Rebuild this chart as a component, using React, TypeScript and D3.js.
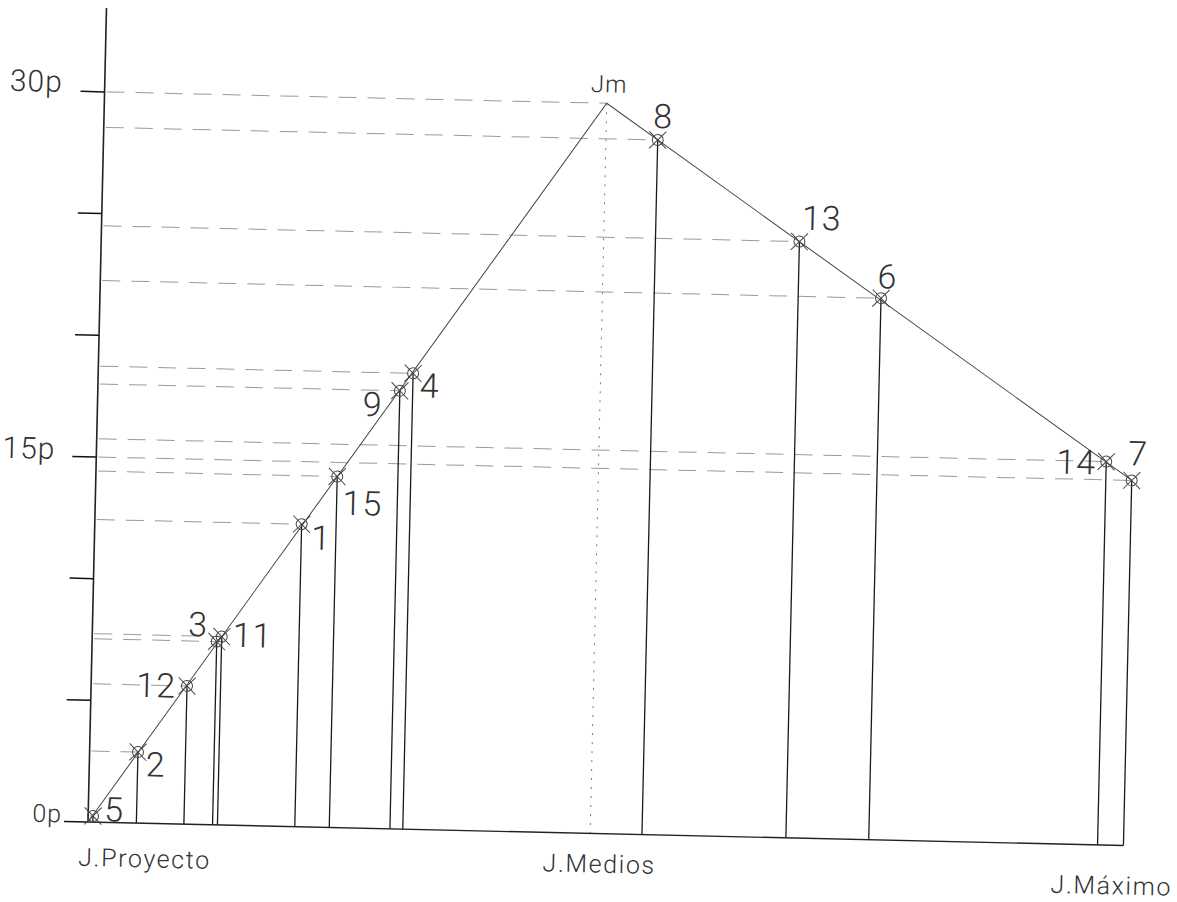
import React from 'react';
import * as d3 from 'd3';

// ---- data ----
const pointIds = ['5', '2', '12', '3', '11', '1', '15', '9', '4', '8', '13', '6', '14', '7'];
const pointX = [0.47, 4.67, 9.26, 12.03, 12.5, 19.97, 23.3, 29.16, 30.4, 53.5, 67.4, 75.4, 97.5, 100];
const pointScore = [0.25, 2.92, 5.68, 7.53, 7.74, 12.43, 14.42, 18.0, 18.73, 28.54, 24.5, 22.25, 15.75, 15.0];

const profileX = [0, 48.5, 100];
const profileScore = [0, 30, 15];
const peakLabel = 'Jm';

const yTicks = [0, 5, 10, 15, 20, 25, 30];
const yTickLabels = ['0p', '', '', '15p', '', '', '30p'];

const xLabels = ['J.Proyecto', 'J.Medios', 'J.Máximo'];
const xLabelPos = [0, 48.5, 100];

// ---- layout (label placement relative to marks) ----
const pointLabelLayout: [number, number, 'start' | 'end'][] = [
  [11, 5, 'start'],
  [8, 24, 'start'],
  [-11, 12, 'end'],
  [-9, -5, 'end'],
  [11, 10, 'start'],
  [10, 25, 'start'],
  [6, 38, 'start'],
  [-17, 26, 'end'],
  [7, 24, 'start'],
  [-5, -12, 'start'],
  [2, -12, 'start'],
  [-4, -10, 'start'],
  [-10, 13, 'end'],
  [-4, -15, 'start'],
];
const yLabelLayout: [number, number, number][] = [
  [-26, 1, 25],
  [0, 0, 0],
  [0, 0, 0],
  [-41, 3, 30],
  [0, 0, 0],
  [0, 0, 0],
  [-42, 1, 30],
];
const xLabelLayout: [number, number][] = [
  [-9, 44],
  [-47, 39],
  [-72, 49],
];

const W = 1177;
const H = 902;
const ORIGIN_X = 88;
const ORIGIN_Y = 822;
const TILT = 1.3;
const AXIS_TOP = 33.45;

const FONT = 'Roboto, "Liberation Sans", sans-serif';

export default function App() {
  const xScale = d3.scaleLinear().domain([0, 100]).range([0, 1035.7]);
  const yScale = d3.scaleLinear().domain([0, 30]).range([0, -730.3]);
  const line = d3
    .line<[number, number]>()
    .x((d) => xScale(d[0]))
    .y((d) => yScale(d[1]));
  const profile: [number, number][] = profileX.map((x, i) => [x, profileScore[i]]);

  const peakX = xScale(profileX[1]);
  const peakY = yScale(profileScore[1]);

  return (
    <svg
      width={W}
      height={H}
      style={{ position: 'absolute', left: 0, top: 0, display: 'block', background: '#fff' }}
    >
      <rect x={0} y={0} width={W} height={H} fill="#fff" />
      <g transform={`translate(${ORIGIN_X},${ORIGIN_Y}) rotate(${TILT})`}>
        {/* horizontal dashed guides */}
        {pointIds.map((id, i) => (
          <line
            key={'h' + id}
            x1={2}
            x2={xScale(pointX[i])}
            y1={yScale(pointScore[i])}
            y2={yScale(pointScore[i])}
            stroke="#9a9a9a"
            strokeWidth={1}
            strokeDasharray="18 11"
          />
        ))}
        <line
          x1={2}
          x2={peakX}
          y1={peakY}
          y2={peakY}
          stroke="#9a9a9a"
          strokeWidth={1}
          strokeDasharray="18 11"
        />
        {/* dotted vertical at peak */}
        <line
          x1={peakX}
          x2={peakX}
          y1={peakY}
          y2={0}
          stroke="#777"
          strokeWidth={1}
          strokeDasharray="2 7"
        />
        {/* vertical drop lines */}
        {pointIds.map((id, i) => (
          <line
            key={'v' + id}
            x1={xScale(pointX[i])}
            x2={xScale(pointX[i])}
            y1={yScale(pointScore[i])}
            y2={0}
            stroke="#1a1a1a"
            strokeWidth={1.3}
          />
        ))}
        {/* axes */}
        <line x1={0} x2={0} y1={0} y2={yScale(AXIS_TOP)} stroke="#222" strokeWidth={1.6} />
        <line x1={0} x2={xScale(100)} y1={0} y2={0} stroke="#222" strokeWidth={1.4} />
        {yTicks.map((t, i) => (
          <g key={'t' + t}>
            <line x1={-24} x2={0} y1={yScale(t)} y2={yScale(t)} stroke="#111" strokeWidth={1.5} />
            {yTickLabels[i] && (
              <text
                x={yLabelLayout[i][0]}
                y={yScale(t) + yLabelLayout[i][1]}
                textAnchor="end"
                fontFamily={FONT}
                fontWeight={300}
                fontSize={yLabelLayout[i][2]}
                fill="#333"
                letterSpacing={1}
              >
                {yTickLabels[i]}
              </text>
            )}
          </g>
        ))}
        {/* profile polyline */}
        <path d={line(profile) || ''} fill="none" stroke="#444" strokeWidth={1} />
        {/* markers */}
        {pointIds.map((id, i) => {
          const cx = xScale(pointX[i]);
          const cy = yScale(pointScore[i]);
          const a = 8.5;
          return (
            <g key={'m' + id} stroke="#444" strokeWidth={1} fill="none">
              <circle cx={cx} cy={cy} r={5.5} />
              <line x1={cx - a} y1={cy - a} x2={cx + a} y2={cy + a} />
              <line x1={cx - a} y1={cy + a} x2={cx + a} y2={cy - a} />
            </g>
          );
        })}
        {/* point labels */}
        {pointIds.map((id, i) => (
          <text
            key={'l' + id}
            x={xScale(pointX[i]) + pointLabelLayout[i][0]}
            y={yScale(pointScore[i]) + pointLabelLayout[i][1]}
            textAnchor={pointLabelLayout[i][2]}
            fontFamily={FONT}
            fontWeight={300}
            fontSize={34}
            fill="#333"
            letterSpacing={1}
          >
            {id}
          </text>
        ))}
        <text
          x={peakX + 2}
          y={peakY - 11}
          textAnchor="middle"
          fontFamily={FONT}
          fontWeight={300}
          fontSize={24}
          fill="#333"
          letterSpacing={1}
        >
          {peakLabel}
        </text>
        {/* x labels */}
        {xLabels.map((lab, i) => (
          <text
            key={'x' + lab}
            x={xScale(xLabelPos[i]) + xLabelLayout[i][0]}
            y={xLabelLayout[i][1]}
            textAnchor="start"
            fontFamily={FONT}
            fontWeight={300}
            fontSize={25}
            fill="#333"
            letterSpacing={1.6}
          >
            {lab}
          </text>
        ))}
      </g>
    </svg>
  );
}
